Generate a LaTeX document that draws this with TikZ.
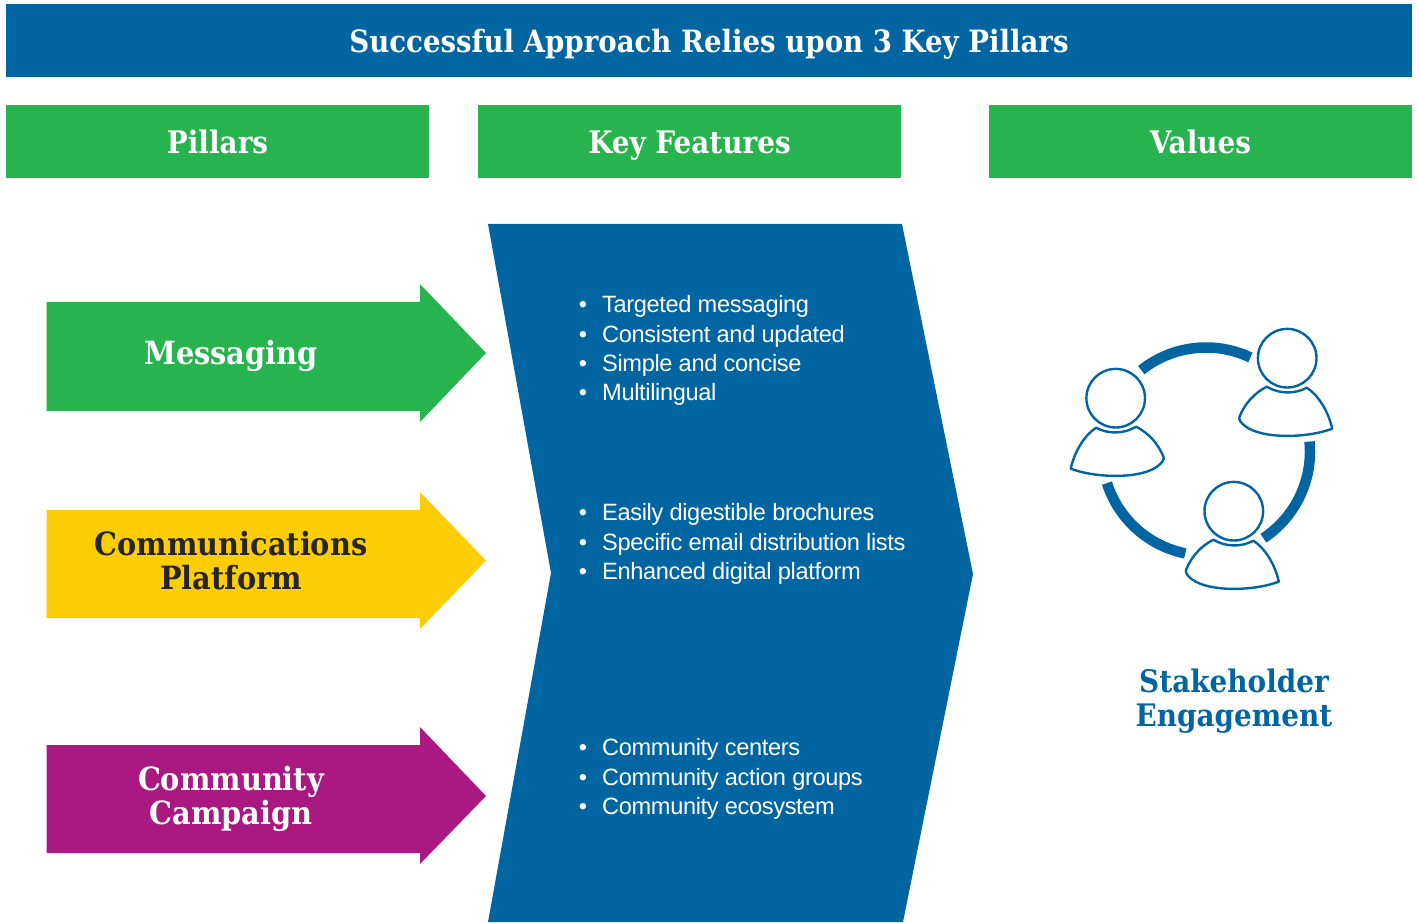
\documentclass[tikz,border=0pt]{standalone}
\usepackage{fontspec}
\setmainfont{Liberation Sans}[LetterSpace=-1.5]
\newfontfamily\slabfont{DejaVu Serif Condensed}[BoldFont={DejaVu Serif Condensed Bold}]
\usetikzlibrary{calc}
\definecolor{pillarblue}{RGB}{0,101,160}
\definecolor{pillargreen}{RGB}{39,179,77}
\definecolor{pillaryellow}{RGB}{255,205,5}
\definecolor{pillarpurple}{RGB}{170,25,130}
\newcommand{\feat}[1]{\llap{\textbullet\hspace{15pt}}#1}
\tikzset{
    banner/.style={fill=pillarblue,text=white,minimum width=1406pt,minimum height=73pt,inner sep=0pt,text height=30pt,text depth=6pt,font=\slabfont\bfseries\fontsize{30.7}{31}\selectfont},
    header/.style={fill=pillargreen,text=white,minimum width=423pt,minimum height=73pt,inner sep=0pt,text height=30pt,text depth=6pt,font=\slabfont\bfseries\fontsize{31}{31}\selectfont},
    pillar/.style={align=center,inner sep=0pt,font=\slabfont\bfseries\fontsize{32}{34.5}\selectfont},
    featurelist/.style={anchor=north west,align=left,inner sep=0pt,text=white,font=\fontsize{23.6}{29.4}\selectfont},
    valuetext/.style={align=center,inner sep=0pt,text=pillarblue,font=\slabfont\bfseries\fontsize{31}{34}\selectfont},
    ringarc/.style={draw=pillarblue,line width=10.5pt},
    outline/.style={draw=pillarblue,line width=2.4pt,fill=white,line join=round},
    person/.pic={
        \draw[outline](0,0)circle(29.3);
        \draw[outline](-20.5,-28.5)..controls(-8,-36) and (8,-36)..(19.5,-29.5)
            ..controls(30,-36) and (41,-52)..(45,-70.5)
            ..controls(20,-80) and (-25,-81)..(-42,-68)
            ..controls(-47,-64) and (-49,-61)..(-47.5,-58)
            ..controls(-42,-45) and (-33,-35)..cycle;
    }
}
\begin{document}
\begin{tikzpicture}[x=1pt,y=1pt]
\useasboundingbox(0,0)rectangle(1419,922);
% top rows
\node[banner](title)at(709,881.5){Successful Approach Relies upon 3 Key Pillars};
\node[header](pillars)at(217.5,780.5){Pillars};
\node[header](features)at(689.5,780.5){Key Features};
\node[header](values)at(1200.5,780.5){Values};
% arrows
\fill[pillargreen](46.5,620)--(420,620)--(420,638)--(486,569)--(420,500)--(420,511)--(46.5,511)--cycle;
\node[pillar,text=white](messaging)at(231,566){Messaging};
\fill[pillaryellow](46.5,412)--(420,412)--(420,430)--(486,361.5)--(420,293)--(420,304)--(46.5,304)--cycle;
\node[pillar,text=black!85](platform)at(231,361.5){Communications\\Platform};
\fill[pillarpurple](46.5,177)--(420,177)--(420,195)--(486,126)--(420,58)--(420,69)--(46.5,69)--cycle;
\node[pillar,text=white](campaign)at(231,123){Community\\Campaign};
% middle block
\fill[pillarblue](488,698)--(902,698)--(973,348)--(903,0)--(488,0)--(551,349)--cycle;
\node[featurelist](listone)at(602,626.5){\feat{Targeted messaging}\\\feat{Consistent and updated}\\\feat{Simple and concise}\\\feat{Multilingual}};
\node[featurelist](listtwo)at(602,418.5){\feat{Easily digestible brochures}\\\feat{Specific email distribution lists}\\\feat{Enhanced digital platform}};
\node[featurelist](listthree)at(602,183.5){\feat{Community centers}\\\feat{Community action groups}\\\feat{Community ecosystem}};
% values icon
\coordinate(ring)at(1206,470.5);
\draw[ringarc]([shift={(128.5:104)}]ring)arc[start angle=128.5,end angle=64.7,radius=104];
\draw[ringarc]([shift={(5.5:104)}]ring)arc[start angle=5.5,end angle=-56.5,radius=104];
\draw[ringarc]([shift={(197.7:104)}]ring)arc[start angle=197.7,end angle=258.5,radius=104];
\pic at(1287.2,563.8){person};
\pic at(1233.8,410.8){person};
\pic[xscale=-1] at(1115.7,523.8){person};
\node[valuetext](stakeholder)at(1234,221){Stakeholder\\Engagement};
\end{tikzpicture}
\end{document}
